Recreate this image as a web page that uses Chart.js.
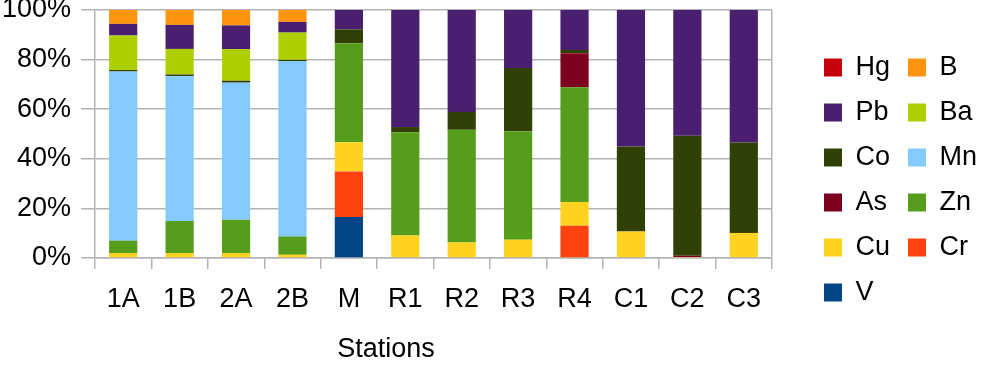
<!DOCTYPE html>
<html>
<head>
<meta charset="utf-8">
<script src="https://cdn.jsdelivr.net/npm/chart.js@4.4.1/dist/chart.umd.min.js"></script>
<style>
  html, body { margin: 0; padding: 0; background: #fff; overflow: hidden; }
  #wrap { width: 995px; height: 378px; }
</style>
</head>
<body>
<div id="wrap"><canvas id="c" width="995" height="378"></canvas></div>
<script>
// ---- data ----
const stations = ['1A', '1B', '2A', '2B', 'M', 'R1', 'R2', 'R3', 'R4', 'C1', 'C2', 'C3'];
const xTitle = 'Stations';
const yTicks = [0, 20, 40, 60, 80, 100];

const V  = [0, 0, 0, 0, 16.5, 0, 0, 0, 0, 0, 0, 0];
const Cr = [0, 0, 0, 0, 18.4, 0, 0, 0, 13.0, 0, 0, 0];
const Cu = [2.0, 2.0, 2.0, 1.3, 11.8, 9.1, 6.3, 7.4, 9.6, 10.7, 0.4, 10.1];
const Zn = [5.0, 12.9, 13.4, 7.4, 39.9, 41.6, 45.4, 43.7, 46.3, 0, 0, 0];
const As = [0, 0, 0, 0, 0, 0, 0, 0, 13.7, 0, 0.5, 0];
const Mn = [68.2, 58.4, 55.3, 70.7, 0, 0, 0, 0, 0, 0, 0, 0];
const Co = [0.6, 0.7, 0.8, 0.5, 5.6, 2.1, 7.2, 25.5, 1.3, 34.3, 48.4, 36.5];
const Ba = [13.9, 10.3, 12.7, 11.0, 0, 0, 0, 0, 0, 0, 0, 0];
const Pb = [4.7, 9.7, 9.6, 4.3, 7.8, 47.2, 41.1, 23.4, 16.1, 55.0, 50.7, 53.4];
const B  = [5.6, 6.0, 6.2, 4.8, 0, 0, 0, 0, 0, 0, 0, 0];
const Hg = [0, 0, 0, 0, 0, 0, 0, 0, 0, 0, 0, 0];

// stacking order bottom -> top
const seriesNames  = ['V', 'Cr', 'Cu', 'Zn', 'As', 'Mn', 'Co', 'Ba', 'Pb', 'B', 'Hg'];
const seriesValues = [V, Cr, Cu, Zn, As, Mn, Co, Ba, Pb, B, Hg];
const seriesColors = ['#004586', '#ff420e', '#ffd320', '#579d1c', '#7e0021', '#83caff',
                      '#314004', '#aecf00', '#4b1f6f', '#ff950e', '#c5000b'];
const legendOrder  = ['Hg', 'Pb', 'Co', 'As', 'Cu', 'V', 'B', 'Ba', 'Mn', 'Zn', 'Cr'];

// ---- chart ----
const FONT = "'Liberation Sans', Arial, sans-serif";
const GRID = '#b3b3b3';
const PLOT_RIGHT = 772;
const PAD_R = 8;

const titleShift = {
  id: 'titleShift',
  beforeDraw(chart) {
    const s = chart.scales.x;
    if (!s || s._shiftWrapped) return;
    const orig = s.drawTitle;
    s.drawTitle = function () {
      const l = this.left, r = this.right;
      this.left = 0; this.right = PLOT_RIGHT;
      orig.call(this);
      this.left = l; this.right = r;
    };
    s._shiftWrapped = true;
  }
};

new Chart(document.getElementById('c'), {
  type: 'bar',
  data: {
    labels: stations,
    datasets: seriesNames.map((n, i) => ({
      label: n,
      data: seriesValues[i],
      backgroundColor: seriesColors[i],
      borderWidth: 0,
      categoryPercentage: 1.0,
      barPercentage: 0.5
    }))
  },
  options: {
    responsive: false,
    devicePixelRatio: 1,
    animation: false,
    layout: { padding: { top: 10, bottom: 12, left: 0, right: PAD_R } },
    plugins: {
      tooltip: { enabled: false },
      legend: {
        position: 'right',
        align: 'start',
        title: { display: true, text: '', font: { size: 10, lineHeight: 1 }, padding: { top: 0, bottom: 16 } },
        labels: {
          font: { family: FONT, size: 27 },
          color: '#000',
          boxWidth: 18,
          boxHeight: 18,
          padding: 18,
          sort: (a, b) => legendOrder.indexOf(a.text) - legendOrder.indexOf(b.text)
        }
      }
    },
    scales: {
      x: {
        stacked: true,
        grid: {
          display: true, drawOnChartArea: true, drawTicks: true, tickLength: 11, offset: true,
          color: (c) => (c.index === undefined || c.index >= stations.length) ? GRID : 'rgba(0,0,0,0)',
          tickColor: GRID, lineWidth: 1.5
        },
        border: { display: true, color: GRID, width: 1.5 },
        ticks: { font: { family: FONT, size: 27 }, color: '#000', padding: 14, maxRotation: 0, autoSkip: false },
        title: { display: true, text: xTitle, font: { family: FONT, size: 27 }, color: '#000', padding: { top: 20, bottom: 0 } },
        afterFit: (s) => { s.height = 108; s.paddingLeft = 0; s.paddingRight = 0; }
      },
      y: {
        stacked: true,
        min: 0,
        max: 100,
        afterBuildTicks: (s) => { s.ticks = yTicks.map(v => ({ value: v })); },
        grid: { color: GRID, lineWidth: 1.5, drawTicks: true, tickLength: 14 },
        border: { display: true, color: GRID, width: 1.5 },
        ticks: { font: { family: FONT, size: 27 }, color: '#000', padding: 10, callback: (v) => v + '%' },
        afterFit: (s) => { s.width = 95; s.paddingTop = 0; s.paddingBottom = 0; }
      },
      gap: {
        type: 'linear',
        position: 'right',
        display: false,
        afterFit: (s) => {
          const lw = (s.chart.legend && s.chart.legend.width) || 189;
          s.width = Math.max(0, 995 - PAD_R - lw - PLOT_RIGHT);
          s.paddingTop = 0; s.paddingBottom = 0;
        }
      }
    }
  },
  plugins: [titleShift]
});
</script>
</body>
</html>
